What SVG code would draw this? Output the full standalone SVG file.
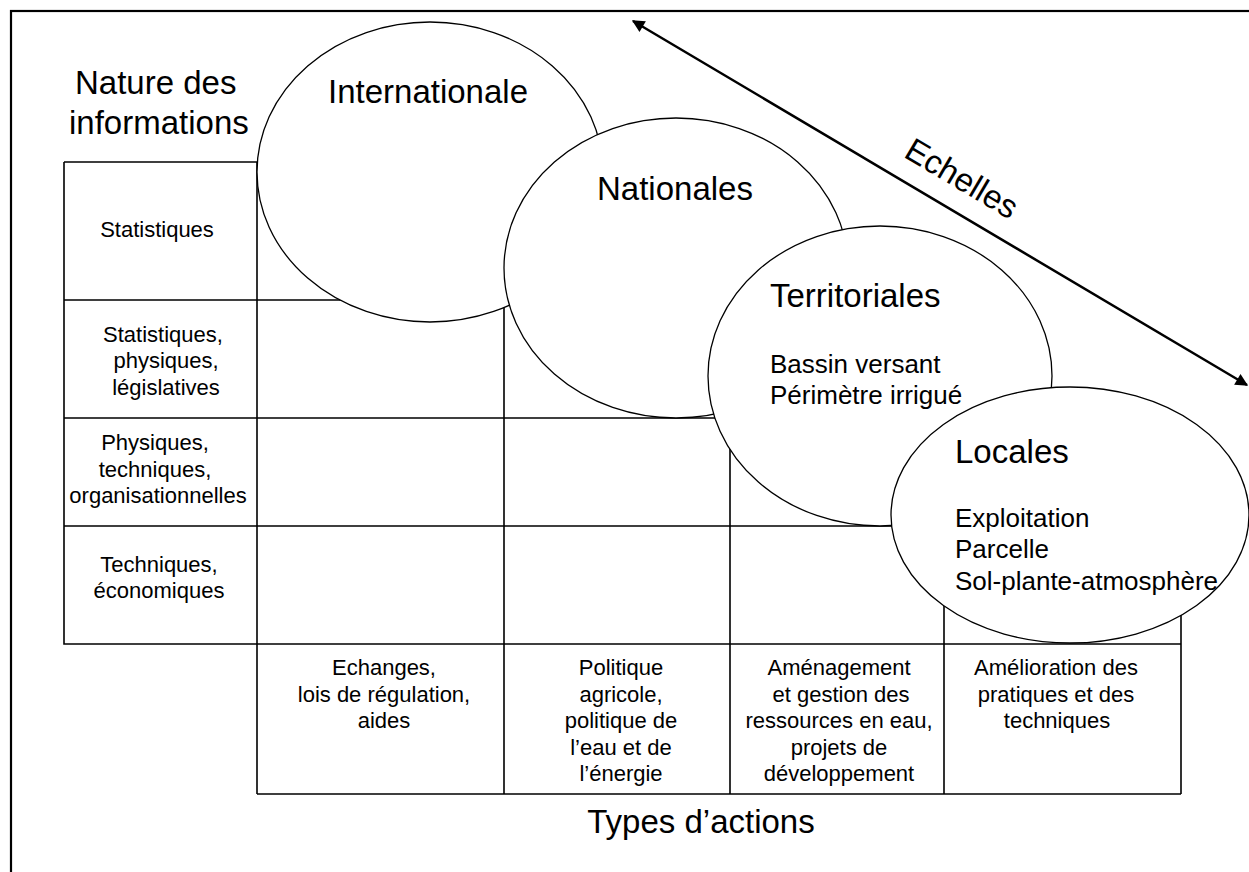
<svg xmlns="http://www.w3.org/2000/svg" width="1249" height="872" viewBox="0 0 1249 872">
<style>
text{font-family:"Liberation Sans",Arial,sans-serif;fill:#000}
.big{font-size:33px}
.mid{font-size:26px}
.sm{font-size:22px;text-anchor:middle}
.grid{stroke:#000;stroke-width:1.6;fill:none}
.ell{stroke:#000;stroke-width:1.3;fill:#fff}
</style>
<defs>
<marker id="ah" viewBox="0 0 10 10" refX="9" refY="5" markerWidth="6" markerHeight="5" orient="auto-start-reverse" markerUnits="strokeWidth">
<path d="M0,0 L10,5 L0,10 z" fill="#000"/>
</marker>
</defs>
<rect width="1249" height="872" fill="#fff"/>
<rect id="frame" x="11" y="11" width="1300" height="900" fill="none" stroke="#000" stroke-width="2.2"/>
<g id="grid" class="grid">
<path d="M64,162 H257 V794 M64,162 V644 H1181 M64,300 H730 M64,418 H944 M64,526 H1181 M257,162 H504 V794 M730,300 V794 M944,418 V794 M1181,526 V794 M257,794 H1181"/>
</g>
<g id="labels-rows">
<text x="75" y="94" class="big">Nature des</text>
<text x="69" y="134" class="big">informations</text>
<text x="157" y="237" class="sm">Statistiques</text>
<text x="163" y="342" class="sm">Statistiques,</text>
<text x="166" y="368" class="sm">physiques,</text>
<text x="166" y="395" class="sm">législatives</text>
<text x="155" y="450" class="sm">Physiques,</text>
<text x="155" y="477" class="sm">techniques,</text>
<text x="158" y="503" class="sm">organisationnelles</text>
<text x="159" y="572" class="sm">Techniques,</text>
<text x="159" y="598" class="sm">économiques</text>
</g>
<g id="labels-cols">
<text x="384" y="675" class="sm">Echanges,</text>
<text x="384" y="702" class="sm">lois de régulation,</text>
<text x="384" y="728" class="sm">aides</text>
<text x="621" y="675" class="sm">Politique</text>
<text x="621" y="702" class="sm">agricole,</text>
<text x="621" y="728" class="sm">politique de</text>
<text x="621" y="755" class="sm">l’eau et de</text>
<text x="621" y="781" class="sm">l’énergie</text>
<text x="839" y="675" class="sm">Aménagement</text>
<text x="841" y="702" class="sm">et gestion des</text>
<text x="839" y="728" class="sm">ressources en eau,</text>
<text x="839" y="755" class="sm">projets de</text>
<text x="839" y="781" class="sm">développement</text>
<text x="1056" y="675" class="sm">Amélioration des</text>
<text x="1056" y="702" class="sm">pratiques et des</text>
<text x="1057" y="728" class="sm">techniques</text>
<text x="701" y="833" class="big" text-anchor="middle">Types d’actions</text>
</g>
<g id="internationale">
<ellipse class="ell" cx="430" cy="172" rx="173" ry="150"/>
<text x="328" y="103" class="big">Internationale</text>
</g>
<g id="nationales">
<ellipse class="ell" cx="676" cy="268" rx="172" ry="150"/>
<text x="597" y="200" class="big">Nationales</text>
</g>
<g id="territoriales">
<ellipse class="ell" cx="880" cy="376" rx="172" ry="150"/>
<text x="770" y="307" class="big">Territoriales</text>
<text x="770" y="373" class="mid">Bassin versant</text>
<text x="770" y="404" class="mid">Périmètre irrigué</text>
</g>
<g id="locales">
<ellipse class="ell" cx="1070" cy="515" rx="179" ry="128"/>
<text x="955" y="463" class="big">Locales</text>
<text x="955" y="527" class="mid">Exploitation</text>
<text x="955" y="558" class="mid">Parcelle</text>
<text x="955" y="590" class="mid">Sol-plante-atmosphère</text>
</g>
<g id="connectors">
<line x1="633" y1="21" x2="1247" y2="385" stroke="#000" stroke-width="2.5" marker-start="url(#ah)" marker-end="url(#ah)"/>
<text class="big" text-anchor="middle" transform="translate(956,188) rotate(30.7)">Echelles</text>
</g>
</svg>
